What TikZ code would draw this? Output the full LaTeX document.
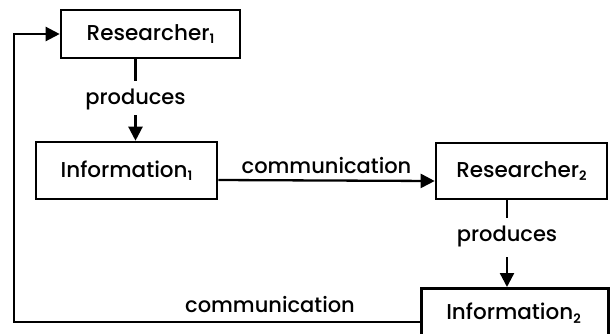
\documentclass[tikz,border=0pt]{standalone}
\usepackage{fontspec}
\setmainfont{Poppins}[UprightFont=* Medium,BoldFont=* SemiBold]
\usetikzlibrary{arrows.meta,calc}
\newcommand{\sbs}[1]{\raisebox{-0.3ex}{\fontsize{13pt}{13pt}\selectfont\bfseries #1}}
\begin{document}
\begin{tikzpicture}[x=1pt,y=1pt,
  box/.style={draw,line width=2.6pt,minimum width=#1,inner sep=0pt,font=\fontsize{21.5pt}{24pt}\selectfont},
  box/.default=180pt,
  link/.style={line width=2.3pt},
  arr/.style={link,-{Triangle[length=14pt,width=14pt]}},
  lbl/.style={font=\fontsize{21pt}{24pt}\selectfont,inner sep=0pt}]
\useasboundingbox (0,0) rectangle (610,-333);
\clip (0,0) rectangle (610,-333);
% the four boxes
\node[box=179pt,minimum height=48pt] (R1) at (150.5,-34) {Researcher\sbs{1}};
\node[box=181pt,minimum height=57pt] (I1) at (126.5,-170.5) {Information\sbs{1}};
\node[box=171pt,minimum height=56pt] (R2) at (521.5,-171) {Researcher\sbs{2}};
\node[box=187pt,minimum height=56pt,anchor=north west] (I2) at (420,-287) {};
\node[lbl,font=\fontsize{21.5pt}{24pt}\selectfont] (I2t) at (513.5,-313) {Information\sbs{2}};
% researcher produces information
\draw[link] (R1.south -| 135.5,0) -- ++(0,-22);
\node[lbl] (p1) at (135.5,-99) {produces};
\draw[arr] (135.5,-115) -- (I1.north -| 135.5,0);
\draw[link] (R2.south -| 507,0) -- ++(0,-18);
\node[lbl] (p2) at (507,-236) {produces};
\draw[arr] (507,-257) -- (I2.north -| 507,0);
% communication between the two
\coordinate (c1) at (I1.east |- 0,-180);
\coordinate (c2) at (R2.west |- 0,-181);
\draw[arr] (c1) -- node[lbl,above=6pt] (m1) {communication} (c2);
% feedback path back to the first researcher
\coordinate (f0) at (I2.west |- 0,-322);
\coordinate (f1) at (14,-322);
\coordinate (f2) at (14,-34);
\draw[arr] (f0) -- (f1) -- (f2) -- (R1.west);
\node[lbl] (m2) at (270,-305) {communication};
\end{tikzpicture}
\end{document}
